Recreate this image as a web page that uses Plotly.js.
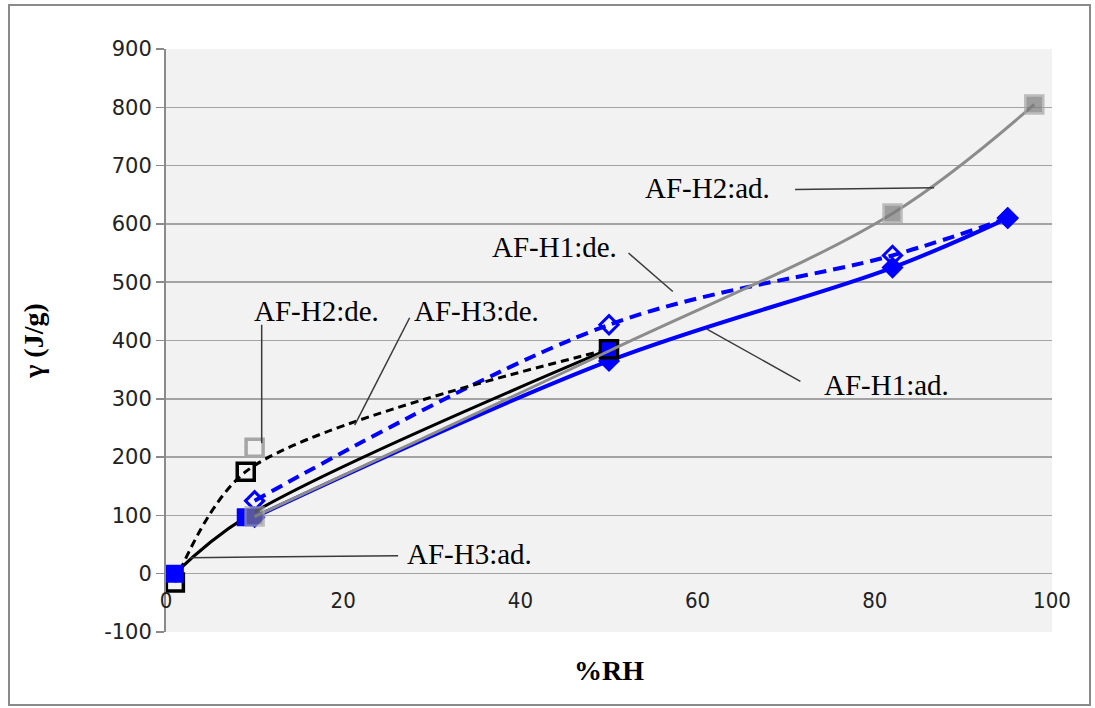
<!DOCTYPE html>
<html>
<head>
<meta charset="utf-8">
<script src="https://cdn.plot.ly/plotly-3.0.1.min.js"></script>
<style>html,body{margin:0;padding:0;background:#fff;}#chart{width:1095px;height:708px;}</style>
</head>
<body>
<div id="chart"></div>
<script>
// Data
const h1adX = [10, 50, 82, 95];
const h1adY = [97, 365, 525, 610];
const h1deX = [10, 50, 82, 95];
const h1deY = [125, 427, 546, 610];
const h2adX = [10, 50, 82, 98];
const h2adY = [98, 382, 618, 805];
const h2deX = [10];
const h2deY = [216];
const h3adX = [1, 9, 50];
const h3adY = [0, 97, 385];
const h3deX = [1, 9, 50];
const h3deY = [-15, 175, 385];
const xTicks = [0, 20, 40, 60, 80, 100];
const yTicks = [-100, 0, 100, 200, 300, 400, 500, 600, 700, 800, 900];

// callout labels
const labelText = ['AF-H2:ad.', 'AF-H1:de.', 'AF-H1:ad.', 'AF-H2:de.', 'AF-H3:de.', 'AF-H3:ad.'];
const labelX = [53.8, 36.6, 74.0, 9.7, 27.8, 27.0];
const labelY = [662, 561, 324, 450, 450, 33];
const leadX0 = [71.0, 52.2, 71.6, 10.8, 27.5, 26.2];
const leadY0 = [659, 550, 330, 427, 439, 31];
const leadX1 = [86.7, 57.2, 61.0, 10.8, 21.3, 2.7];
const leadY1 = [662, 484, 420, 224, 255, 27.5];

const traces = [
  {name: 'AF-H1:ad.', x: h1adX, y: h1adY, mode: 'lines+markers',
   line: {color: '#0000ff', width: 4, shape: 'spline'},
   marker: {symbol: 'diamond', size: 17, color: '#0000ff'}},
  {name: 'AF-H1:de.', x: h1deX, y: h1deY, mode: 'lines+markers',
   line: {color: '#0000ff', width: 4, dash: '12px,7px', shape: 'spline'},
   marker: {symbol: 'diamond-open', size: 14, color: '#0000ff', line: {width: 3, color: '#0000ff'}}},
  {name: 'AF-H3:de.', x: h3deX, y: h3deY, mode: 'lines+markers',
   line: {color: '#000000', width: 3, dash: '8px,5px', shape: 'spline', smoothing: 0.85},
   marker: {symbol: 'square-open', size: 17, color: '#000000', line: {width: 3.5, color: '#000000'}}},
  {name: 'AF-H3:ad.', x: h3adX, y: h3adY, mode: 'lines+markers',
   line: {color: '#000000', width: 3, shape: 'spline'},
   marker: {symbol: 'square', size: 16, color: '#0000ff', line: {width: 2, color: ['#0000ff', '#0000ff', '#000000']}}},
  {name: 'AF-H2:ad.', x: h2adX, y: h2adY, mode: 'lines+markers',
   line: {color: '#8c8c8c', width: 3, shape: 'spline'},
   marker: {symbol: 'square', size: [18, 0, 18, 18], color: '#7a7a7a', line: {width: 2.5, color: '#a6a6a6'}}},
  {name: 'AF-H2:de.', x: h2deX, y: h2deY, mode: 'markers',
   marker: {symbol: 'square-open', size: 17, color: '#a6a6a6', line: {width: 3.5, color: '#a6a6a6'}}}
];

const shapes = [];
const annotations = [];
for (let i = 0; i < labelText.length; i++) {
  shapes.push({type: 'line', xref: 'x', yref: 'y', x0: leadX0[i], y0: leadY0[i], x1: leadX1[i], y1: leadY1[i],
               line: {color: '#3a3a3a', width: 1.5}});
  annotations.push({text: labelText[i], x: labelX[i], y: labelY[i], xref: 'x', yref: 'y',
                    xanchor: 'left', yanchor: 'middle', showarrow: false,
                    font: {family: 'Liberation Serif, Times New Roman, serif', size: 29, color: '#000'}});
}
// outer chart border
shapes.push({type: 'rect', xref: 'paper', yref: 'paper', x0: -0.1772, x1: 1.0429, y0: -0.1252, y1: 1.0755,
             line: {color: '#8a8a8a', width: 2}, fillcolor: 'rgba(0,0,0,0)', layer: 'below'});

const layout = {
  width: 1095, height: 708,
  margin: {l: 166, r: 43, t: 49, b: 76},
  paper_bgcolor: '#ffffff', plot_bgcolor: '#f2f2f2',
  showlegend: false,
  xaxis: {
    range: [0, 100], tickvals: xTicks, ticktext: xTicks.map(String),
    showgrid: false, zeroline: false, showline: false, ticks: '',
    anchor: 'free', position: 0.1, ticklabelstandoff: 11,
    tickfont: {family: 'Liberation Sans Narrow, DejaVu Sans Condensed, Arial Narrow, sans-serif', size: 22, color: '#222'},
    title: {text: '%RH', standoff: 48, font: {family: 'Liberation Serif, Times New Roman, serif', size: 28, color: '#000', weight: 'bold'}}
  },
  yaxis: {
    range: [-100, 900], tickvals: yTicks, ticktext: yTicks.map(String),
    showgrid: true, gridcolor: '#a3a3a3', gridwidth: 1.5, zeroline: false,
    showline: true, linecolor: '#8a8a8a', linewidth: 2,
    ticks: 'outside', ticklen: 8, tickcolor: '#8a8a8a', tickwidth: 1.5,
    tickfont: {family: 'DejaVu Sans, Verdana, sans-serif', size: 21, color: '#222'},
    title: {text: 'γ (J/g)', standoff: 52, font: {family: 'Liberation Serif, Times New Roman, serif', size: 28, color: '#000', weight: 'bold'}}
  },
  shapes: shapes,
  annotations: annotations
};

Plotly.newPlot('chart', traces, layout, {displayModeBar: false, staticPlot: true});
</script>
</body>
</html>
